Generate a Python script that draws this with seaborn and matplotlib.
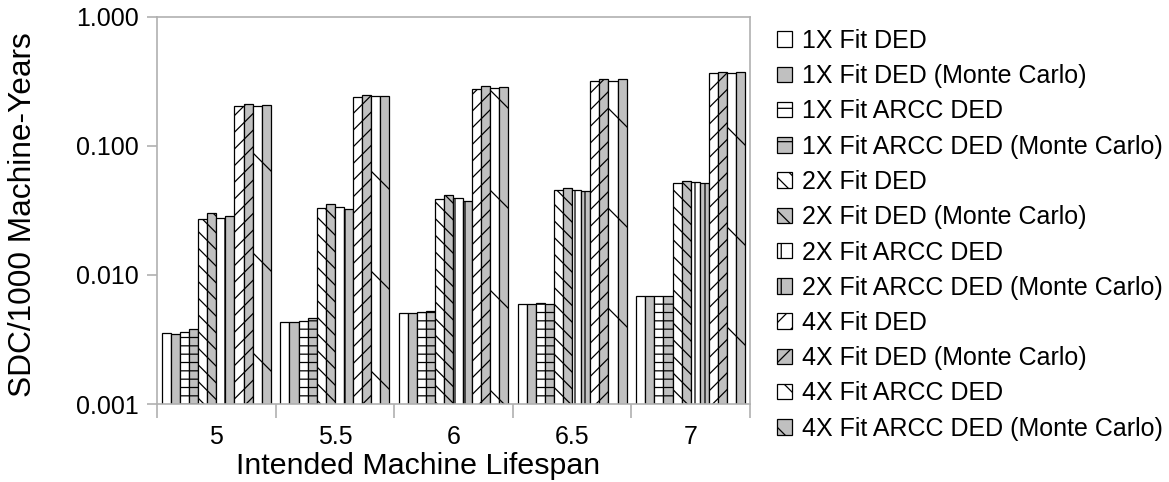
import numpy as np
import pandas as pd
import matplotlib
matplotlib.use("Agg")
import matplotlib.pyplot as plt
import seaborn as sns
from matplotlib.patches import Patch
from matplotlib.ticker import FixedLocator, NullFormatter

# ---------------- data ----------------
lifespans = ["5", "5.5", "6", "6.5", "7"]
series_names = [
    "1X Fit DED",
    "1X Fit DED (Monte Carlo)",
    "1X Fit ARCC DED",
    "1X Fit ARCC DED (Monte Carlo)",
    "2X Fit DED",
    "2X Fit DED (Monte Carlo)",
    "2X Fit ARCC DED",
    "2X Fit ARCC DED (Monte Carlo)",
    "4X Fit DED",
    "4X Fit DED (Monte Carlo)",
    "4X Fit ARCC DED",
    "4X Fit ARCC DED (Monte Carlo)",
]
fit1_ded = [0.00357, 0.00430, 0.00510, 0.00596, 0.00688]
fit1_ded_mc = [0.00347, 0.00430, 0.00510, 0.00596, 0.00688]
fit1_arcc = [0.00363, 0.00440, 0.00518, 0.00606, 0.00688]
fit1_arcc_mc = [0.00379, 0.00461, 0.00525, 0.00594, 0.00680]
fit2_ded = [0.0272, 0.0329, 0.0388, 0.0450, 0.0514]
fit2_ded_mc = [0.0301, 0.0355, 0.0412, 0.0470, 0.0532]
fit2_arcc = [0.0275, 0.0333, 0.0393, 0.0452, 0.0520]
fit2_arcc_mc = [0.0283, 0.0325, 0.0373, 0.0446, 0.0514]
fit4_ded = [0.202, 0.239, 0.275, 0.315, 0.366]
fit4_ded_mc = [0.209, 0.245, 0.288, 0.329, 0.372]
fit4_arcc = [0.202, 0.241, 0.278, 0.319, 0.366]
fit4_arcc_mc = [0.205, 0.244, 0.285, 0.329, 0.372]
y_ticks = [0.001, 0.01, 0.1, 1.0]
y_tick_labels = ["0.001", "0.010", "0.100", "1.000"]

all_series = [fit1_ded, fit1_ded_mc, fit1_arcc, fit1_arcc_mc,
              fit2_ded, fit2_ded_mc, fit2_arcc, fit2_arcc_mc,
              fit4_ded, fit4_ded_mc, fit4_arcc, fit4_arcc_mc]

rows = []
for name, vals in zip(series_names, all_series):
    for ls, v in zip(lifespans, vals):
        rows.append({"Lifespan": ls, "Series": name, "Value": v})
df = pd.DataFrame(rows)

# ---------------- style ----------------
WHITE = "#ffffff"
GRAY = "#c0c0c0"
face_colors = [WHITE, GRAY] * 6
hatches = ["", "", "------", "------", "\\\\\\\\\\\\", "\\\\\\\\\\\\",
           "|||||", "|||||", "//////", "//////", "\\", "\\"]
legend_hatches = ["", "", "---", "---", "\\\\\\\\\\\\", "\\\\\\\\\\\\",
                  "||||", "||||", "/////", "/////", "\\\\\\\\", "\\\\\\\\"]

sns.set_theme(style="white")
plt.rcParams["font.family"] = ["Liberation Sans", "DejaVu Sans"]
plt.rcParams["hatch.linewidth"] = 0.3
plt.rcParams["hatch.color"] = "black"
plt.rcParams["text.color"] = "black"
plt.rcParams["axes.labelcolor"] = "black"
plt.rcParams["xtick.color"] = "black"
plt.rcParams["ytick.color"] = "black"

DPI = 300
fig = plt.figure(figsize=(1169 / DPI, 482 / DPI), dpi=DPI)
fig.patch.set_facecolor("white")
ax = fig.add_axes([157 / 1169, 1 - 404 / 482, (750 - 157) / 1169, (404 - 16.5) / 482])

palette = dict(zip(series_names, face_colors))
sns.barplot(data=df, x="Lifespan", y="Value", hue="Series", order=lifespans,
            hue_order=series_names, palette=palette, width=0.92, gap=0,
            edgecolor="black", linewidth=0.3, saturation=1, legend=False,
            errorbar=None, ax=ax)

for container, h in zip(ax.containers, hatches):
    for bar in container:
        bar.set_hatch(h)
        bar.set_edgecolor("black")

ax.set_yscale("log")
ax.set_ylim(0.001, 1.0)
ax.set_xlim(-0.5, len(lifespans) - 0.5)
ax.yaxis.set_major_locator(FixedLocator(y_ticks))
ax.set_yticklabels(y_tick_labels)
ax.yaxis.set_minor_locator(FixedLocator([]))

ax.xaxis.set_minor_locator(FixedLocator(np.arange(-0.5, len(lifespans), 1.0)))
ax.xaxis.set_minor_formatter(NullFormatter())
ax.tick_params(axis="x", which="major", length=0, labelsize=6, pad=5,
               labelcolor="black")
ax.tick_params(axis="x", which="minor", length=3.3, width=0.4, color="#b0b0b0",
               direction="out", bottom=True)
ax.tick_params(axis="y", which="major", length=2.4, width=0.4, color="#b0b0b0",
               direction="out", left=True, labelsize=6, pad=2,
               labelcolor="black")

for sp in ax.spines.values():
    sp.set_visible(True)
    sp.set_color("#b0b0b0")
    sp.set_linewidth(0.4)

ax.set_xlabel("Intended Machine Lifespan", fontsize=7.3, color="black")
ax.xaxis.set_label_coords((418 - 157) / (750 - 157), -(466 - 404) / (404 - 16.5))
ax.xaxis.label.set_va("center")
ax.set_ylabel("SDC/1000 Machine-Years", fontsize=7.6, color="black")
ax.yaxis.set_label_coords(-(157 - 23) / (750 - 157), (404 - 215) / (404 - 16.5))
ax.yaxis.label.set_va("center")
ax.grid(False)

handles = [Patch(facecolor=c, edgecolor="black", hatch=h, linewidth=0.3)
           for c, h in zip(face_colors, legend_hatches)]
fig.legend(handles, series_names, loc="upper left",
           bbox_to_anchor=(777 / 1169, 1 - 29 / 482), frameon=False,
           fontsize=6.0, handlelength=0.58, handleheight=0.58, handletextpad=0.42,
           labelspacing=0.45, borderpad=0, borderaxespad=0)

fig.savefig("out.png", dpi=DPI, facecolor="white")
